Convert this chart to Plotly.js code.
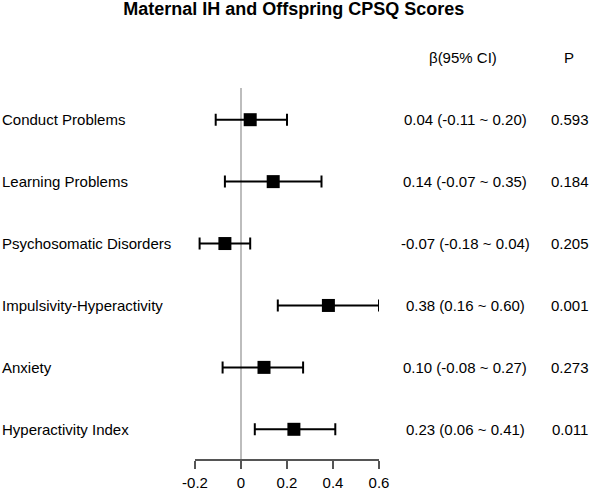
<!DOCTYPE html>
<html>
<head>
<meta charset="utf-8">
<script src="https://cdn.plot.ly/plotly-3.0.1.min.js"></script>
<style>html,body{margin:0;padding:0;background:#fff}#chart{width:590px;height:492px}</style>
</head>
<body>
<div id="chart"></div>
<script>
// ---- data ----
const outcomes = ["Conduct Problems", "Learning Problems", "Psychosomatic Disorders",
                  "Impulsivity-Hyperactivity", "Anxiety", "Hyperactivity Index"];
const beta  = [0.04, 0.14, -0.07, 0.38, 0.10, 0.23];
const lower = [-0.11, -0.07, -0.18, 0.16, -0.08, 0.06];
const upper = [0.20, 0.35, 0.04, 0.60, 0.27, 0.41];
const ciText = ["0.04 (-0.11 ~ 0.20)", "0.14 (-0.07 ~ 0.35)", "-0.07 (-0.18 ~ 0.04)",
                "0.38 (0.16 ~ 0.60)", "0.10 (-0.08 ~ 0.27)", "0.23 (0.06 ~ 0.41)"];
const pText = ["0.593", "0.184", "0.205", "0.001", "0.273", "0.011"];
const xTicks = [-0.2, 0, 0.2, 0.4, 0.6];
const xTickLabels = ["-0.2", "0", "0.2", "0.4", "0.6"];
const headerCI = "β(95% CI)";
const headerP = "P";
const titleText = "Maternal IH and Offspring CPSQ Scores";

// ---- layout helpers ----
const W = 590, H = 492;
const n = outcomes.length;
const rowY = outcomes.map((_, i) => n - 1 - i);   // top row highest
const yBottom = -0.485, yTop = 6.5;
const pxRowTop = 119.7, pxRowBottom = 429.3;
const step = (pxRowBottom - pxRowTop) / (n - 1);
const pxOf = v => pxRowBottom - v * step;
const domY = [(H - pxOf(yBottom)) / H, (H - pxOf(yTop)) / H];

const font = {family: "Liberation Sans, Arial, sans-serif", size: 15, color: "#000"};

const trace = {
  type: "scatter", mode: "markers",
  x: beta, y: rowY,
  marker: {symbol: "square", size: 13, color: "#000"},
  error_x: {
    type: "data", symmetric: false,
    array: upper.map((u, i) => u - beta[i]),
    arrayminus: lower.map((l, i) => beta[i] - l),
    color: "#000", thickness: 2, width: 6
  },
  cliponaxis: false, hoverinfo: "skip", showlegend: false
};

const annotations = [];
outcomes.forEach((o, i) => {
  annotations.push({text: o, xref: "paper", yref: "y", x: 0, y: rowY[i],
    xanchor: "left", yanchor: "middle", showarrow: false, font: font});
  annotations.push({text: ciText[i], xref: "paper", yref: "y", x: 465 / W, y: rowY[i],
    xanchor: "center", yanchor: "middle", showarrow: false, font: font});
  annotations.push({text: pText[i], xref: "paper", yref: "y", x: 570 / W, y: rowY[i],
    xanchor: "center", yanchor: "middle", showarrow: false, font: font});
});
annotations.push({text: headerCI, xref: "paper", yref: "y", x: 463 / W, y: n,
  xanchor: "center", yanchor: "middle", showarrow: false, font: font});
annotations.push({text: headerP, xref: "paper", yref: "y", x: 569 / W, y: n,
  xanchor: "center", yanchor: "middle", showarrow: false, font: font});

const layout = {
  width: W, height: H,
  margin: {l: 0, r: 0, t: 0, b: 0},
  paper_bgcolor: "#fff", plot_bgcolor: "#fff",
  title: {text: "<b>" + titleText + "</b>", x: 0.498, xanchor: "center",
          y: 1 - 9 / H, yanchor: "middle",
          font: {family: "Liberation Sans, Arial, sans-serif", size: 18, color: "#000"}},
  xaxis: {
    domain: [195 / W, 379 / W], range: [-0.2, 0.6],
    tickvals: xTicks, ticktext: xTickLabels,
    showline: true, linecolor: "#555", linewidth: 1.5,
    ticks: "outside", ticklen: 8, tickwidth: 1.5, tickcolor: "#555",
    ticklabelstandoff: 1,
    showgrid: false, zeroline: false, tickfont: font, fixedrange: true
  },
  yaxis: {
    domain: domY, range: [yBottom, yTop], visible: false, fixedrange: true
  },
  shapes: [{type: "line", xref: "x", yref: "y", x0: 0, x1: 0,
    y0: yBottom, y1: (pxOf(0) - 88) / step,
    line: {color: "#bdbdbd", width: 2}, layer: "below"}],
  annotations: annotations
};

Plotly.newPlot("chart", [trace], layout, {staticPlot: true, displayModeBar: false});
</script>
</body>
</html>
